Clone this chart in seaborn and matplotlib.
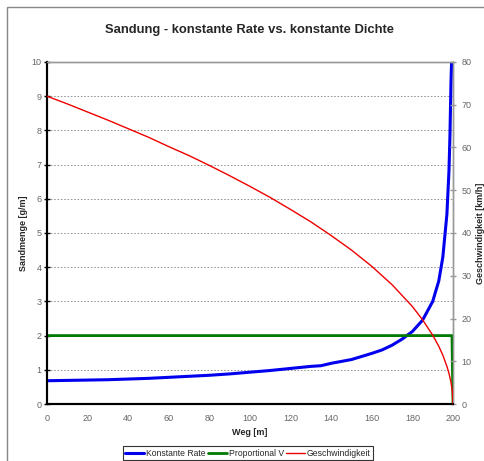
import numpy as np
import pandas as pd
import seaborn as sns
import matplotlib.pyplot as plt
from matplotlib.patches import Rectangle

# Werte
weg_rate = [0, 10, 20, 30, 40, 50, 60, 70, 80, 90, 100, 110, 120, 130, 135, 140, 150,
            160, 165, 170, 175, 180, 185, 190, 193, 195, 197, 198, 198.5, 199, 199.3]
konstante_rate = [0.68, 0.69, 0.70, 0.71, 0.73, 0.75, 0.78, 0.81, 0.84, 0.88, 0.93, 0.98,
                  1.04, 1.10, 1.12, 1.19, 1.30, 1.48, 1.58, 1.72, 1.90, 2.12, 2.45, 3.00,
                  3.60, 4.30, 5.55, 6.80, 7.85, 9.40, 10.0]

weg_prop = [0, 199.5, 200]
proportional_v = [2, 2, 0]

weg_v = [0, 10, 20, 30, 40, 50, 60, 70, 80, 90, 100, 110, 120, 130, 140, 150, 160,
         170, 180, 185, 190, 193, 195, 197, 198, 199, 199.7, 200]
geschwindigkeit = [72, 70.2, 68.3, 66.4, 64.4, 62.4, 60.2, 58.1, 55.8, 53.4, 50.9, 48.3,
                   45.5, 42.6, 39.4, 36.0, 32.2, 27.9, 22.8, 19.7, 16.1, 13.5, 11.4, 8.8,
                   7.2, 5.1, 2.8, 0]

df_rate = pd.DataFrame({'Weg': weg_rate, 'Wert': konstante_rate})
df_prop = pd.DataFrame({'Weg': weg_prop, 'Wert': proportional_v})
df_v = pd.DataFrame({'Weg': weg_v, 'Wert': geschwindigkeit})

sns.set_style('white')
plt.rcParams['font.family'] = ['Liberation Sans', 'DejaVu Sans']

fig = plt.figure(figsize=(4.84, 4.61), dpi=100)
ax = fig.add_axes([47 / 484, 1 - 404 / 461, 406 / 484, 342 / 461])
ax2 = ax.twinx()

tick_grau = '#666666'

# Gitterlinien
for y in range(1, 10):
    ax.axhline(y, color='#888888', lw=0.6, ls=(0, (2, 2)), zorder=0)

sns.lineplot(data=df_rate, x='Weg', y='Wert', ax=ax, color='#0000ee', lw=2.2,
             label='Konstante Rate', legend=False, zorder=3)
sns.lineplot(data=df_prop, x='Weg', y='Wert', ax=ax, color='#007a00', lw=2,
             label='Proportional V', legend=False, zorder=3)
sns.lineplot(data=df_v, x='Weg', y='Wert', ax=ax2, color='#ee0000', lw=1,
             label='Geschwindigkeit', legend=False, zorder=3)

ax.set_xlim(0, 200)
ax.set_ylim(0, 10)
ax2.set_ylim(0, 80)
ax.set_xticks(range(0, 201, 20))
ax.set_yticks(range(0, 11))
ax2.set_yticks(range(0, 81, 10))

ax.set_xlabel('Weg [m]', fontsize=6.5, fontweight='bold', labelpad=4)
ax.set_ylabel('Sandmenge [g/m]', fontsize=6.5, fontweight='bold', labelpad=2.5)
ax2.set_ylabel('Geschwindigkeit [km/h]', fontsize=6.5, fontweight='bold', labelpad=3)

ax.tick_params(axis='x', direction='inout', length=4, width=1, color='black',
               labelsize=6.5, labelcolor=tick_grau, pad=5)
ax.tick_params(axis='y', direction='inout', length=4, width=1, color='black',
               labelsize=6.5, labelcolor=tick_grau, pad=2)
ax2.tick_params(axis='y', direction='inout', length=4, width=1, color='#999999',
                labelsize=6.5, labelcolor=tick_grau, pad=4)

for a in (ax, ax2):
    a.spines['left'].set_color('black')
    a.spines['left'].set_linewidth(1.5)
    a.spines['bottom'].set_color('black')
    a.spines['bottom'].set_linewidth(1.5)
    a.spines['top'].set_color('#999999')
    a.spines['top'].set_linewidth(1)
    a.spines['right'].set_color('#999999')
    a.spines['right'].set_linewidth(1)
ax.patch.set_visible(False)

fig.suptitle('Sandung - konstante Rate vs. konstante Dichte', fontsize=9.4,
             fontweight='bold', x=250 / 484, y=1 - 30 / 461, va='center')

h1, lab1 = ax.get_legend_handles_labels()
h2, lab2 = ax2.get_legend_handles_labels()
leg = fig.legend(h1 + h2, lab1 + lab2, loc='upper center', bbox_to_anchor=(248 / 484, 1 - 446 / 461),
                 ncol=3, fontsize=6.2, frameon=True, fancybox=False, handlelength=2.2,
                 handletextpad=0.2, columnspacing=0.3, borderpad=0.3, borderaxespad=0)
leg.get_frame().set_edgecolor('black')
leg.get_frame().set_linewidth(0.8)

# Rahmen des Diagrammbereichs
fig.patches.append(Rectangle((7 / 484, -0.1), 1.2, 1 - 7 / 461 + 0.1, transform=fig.transFigure,
                             fill=False, edgecolor='#888888', lw=1, clip_on=False))

fig.savefig('out.png', dpi=100)
